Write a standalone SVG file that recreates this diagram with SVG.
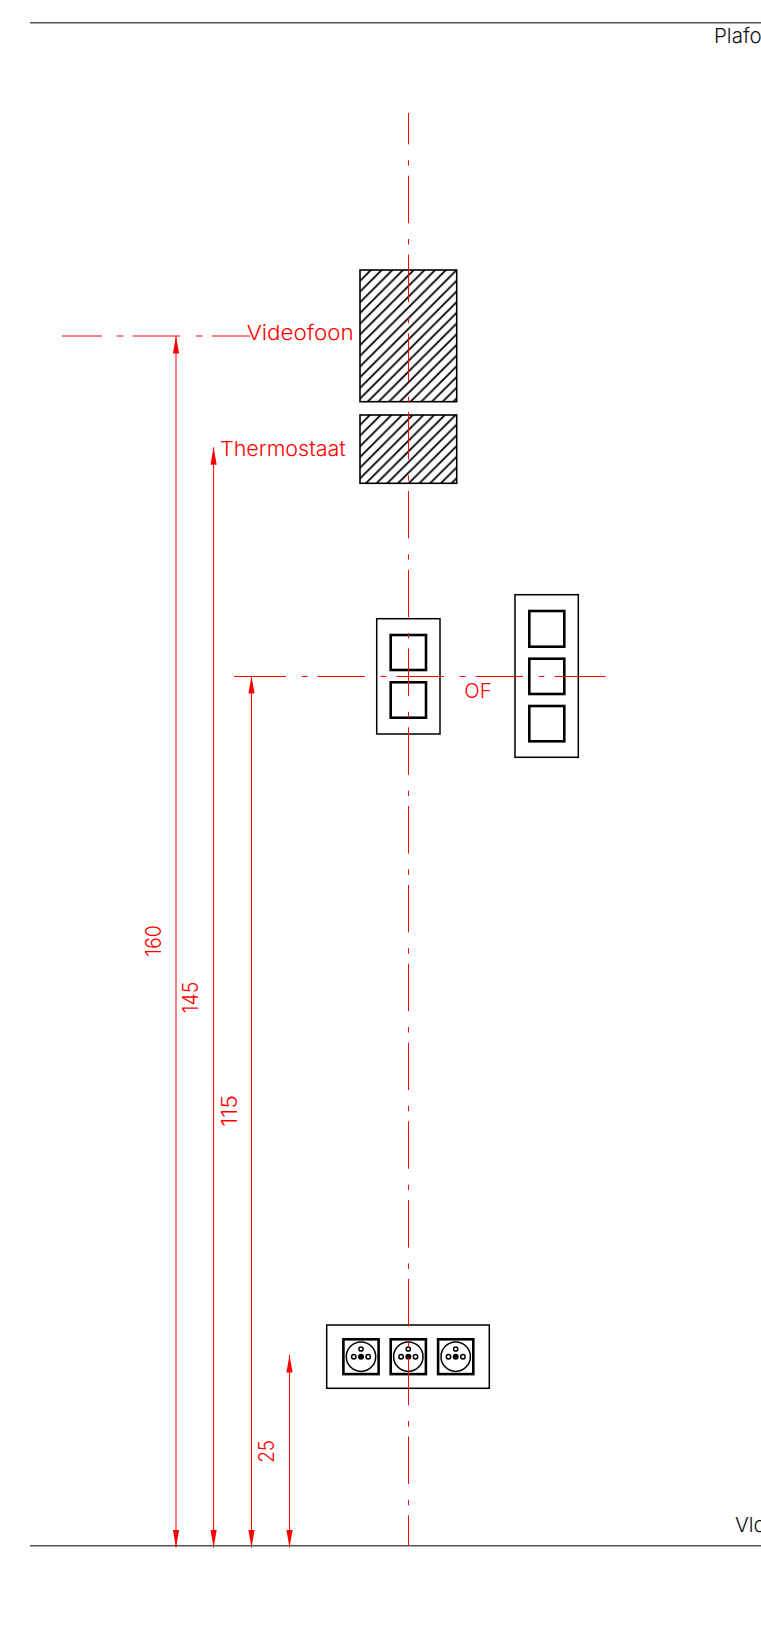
<svg xmlns="http://www.w3.org/2000/svg" width="761" height="1635" viewBox="0 0 761 1635">
<style>
.bg{fill:#fff}
.level{stroke:#555;stroke-width:1.6;fill:none}
.outer{fill:#fff;stroke:#000;stroke-width:1.5}
.sq{fill:#fff;stroke:#000;stroke-width:2.6}
.hatchbox{stroke:#000;stroke-width:1.6}
.hatch{stroke:#000;stroke-width:1.8}
.center{stroke:#f00;stroke-width:1;fill:none;stroke-dasharray:47.5 15.8 5.5 10}
.dim{stroke:#f00;stroke-width:1;fill:none}
.t{font-family:"Inter","Open Sans",sans-serif;font-weight:300;font-size:20.5px}
.n{font-size:21.5px}
.r{fill:#f00}
.k{fill:#111}
.pin{fill:#fff;stroke:#000;stroke-width:1.5}
.pinc{fill:#000}
.sock{fill:#fff;stroke:#000;stroke-width:1.5}
</style>
<defs>
<pattern id="h1" patternUnits="userSpaceOnUse" width="10.7" height="10.7" x="381.7" y="270"><path class="hatch" d="M-2.675 2.675L2.675-2.675M0 10.7L10.7 0M8.025 13.375L13.375 8.025"/></pattern>
<pattern id="h2" patternUnits="userSpaceOnUse" width="10.7" height="10.7" x="380.7" y="415"><path class="hatch" d="M-2.675 2.675L2.675-2.675M0 10.7L10.7 0M8.025 13.375L13.375 8.025"/></pattern>
<marker id="ah" markerUnits="userSpaceOnUse" markerWidth="18" markerHeight="7" refX="17.5" refY="3.5" orient="auto-start-reverse" viewBox="0 0 18 7"><path d="M17.5 3.5L0 6.6V0.4Z" fill="#f00"/></marker>
<g id="socket">
<rect class="sq" x="-17.6" y="-17.4" width="35.2" height="34.8"/>
<circle class="sock" cx="0" cy="0" r="14.7"/>
<circle class="pin" cx="-7.2" cy="0" r="2.2"/>
<circle class="pin" cx="7.2" cy="0" r="2.2"/>
<circle class="pin" cx="0" cy="-7.7" r="2.1"/>
<circle class="pinc" cx="0" cy="0" r="3"/>
</g>
</defs>
<rect class="bg" width="761" height="1635"/>
<g id="plafond">
<path class="level" d="M30 22.7H761"/>
<text class="t k" x="714" y="43.3">Plafo</text>
</g>
<g id="vloer">
<path class="level" d="M30 1545.7H761"/>
<text class="t k" x="735" y="1531.7">Vlo</text>
</g>
<g id="videofoon">
<rect x="360" y="270" width="96.7" height="131.7" fill="url(#h1)" class="hatchbox"/>
<text class="t r" x="246.7" y="340" textLength="107" lengthAdjust="spacingAndGlyphs">Videofoon</text>
</g>
<g id="thermostaat">
<rect x="360" y="415" width="96.7" height="68.3" fill="url(#h2)" class="hatchbox"/>
<text class="t r" x="220" y="456" textLength="125.7" lengthAdjust="spacingAndGlyphs">Thermostaat</text>
</g>
<g id="schakelaar-2">
<rect class="outer" x="376.7" y="618.7" width="63.3" height="115.3"/>
<rect class="sq" x="390.7" y="635" width="35.3" height="35"/>
<rect class="sq" x="390.7" y="682.3" width="35.3" height="35.4"/>
</g>
<g id="schakelaar-3">
<rect class="outer" x="515" y="594.7" width="63.3" height="162.6"/>
<rect class="sq" x="529.3" y="611" width="35" height="35.7"/>
<rect class="sq" x="529.3" y="658.7" width="35" height="35.3"/>
<rect class="sq" x="529.3" y="706" width="35" height="35.3"/>
<text class="t r" x="464.3" y="698.3" textLength="27.4" lengthAdjust="spacingAndGlyphs">OF</text>
</g>
<g id="stopcontacten">
<rect class="outer" x="326.7" y="1325" width="162.6" height="63.3"/>
<use href="#socket" x="361" y="1356.7"/>
<use href="#socket" x="408.3" y="1356.7"/>
<use href="#socket" x="455.7" y="1356.7"/>
</g>
<g id="connectors">
<path class="center" stroke-dashoffset="16.1" d="M408.5 113V1545.7"/>
<path class="center" d="M62 336H250" style="stroke-dasharray:40 14.7 6.7 9.3 47.3 15.7 6.7 9.3 47.3 15.7"/>
<path class="center" d="M234 676.5H605.7" style="stroke-dasharray:52 15.7 5.7 10 47.6 15.7 5.7 10 47.6 15.7 5.7 10 47.6 15.7 5.7 10 60"/>
<path class="dim" marker-start="url(#ah)" marker-end="url(#ah)" d="M176 336V1547.5"/>
<path class="dim" marker-start="url(#ah)" marker-end="url(#ah)" d="M213.6 447.3V1547.5"/>
<path class="dim" marker-start="url(#ah)" marker-end="url(#ah)" d="M251.5 676V1547.5"/>
<path class="dim" marker-start="url(#ah)" marker-end="url(#ah)" d="M289.5 1355V1547.5"/>
</g>
<g id="maten">
<text class="t n r" transform="translate(160.7 956.7) rotate(-90)" textLength="31.7" lengthAdjust="spacingAndGlyphs">160</text>
<text class="t n r" transform="translate(198.3 1013.3) rotate(-90)" textLength="31.6" lengthAdjust="spacingAndGlyphs">145</text>
<text class="t n r" transform="translate(236.7 1126.7) rotate(-90)" textLength="31.7" lengthAdjust="spacingAndGlyphs">115</text>
<text class="t n r" transform="translate(274.3 1462.7) rotate(-90)" textLength="22.7" lengthAdjust="spacingAndGlyphs">25</text>
</g>
</svg>
